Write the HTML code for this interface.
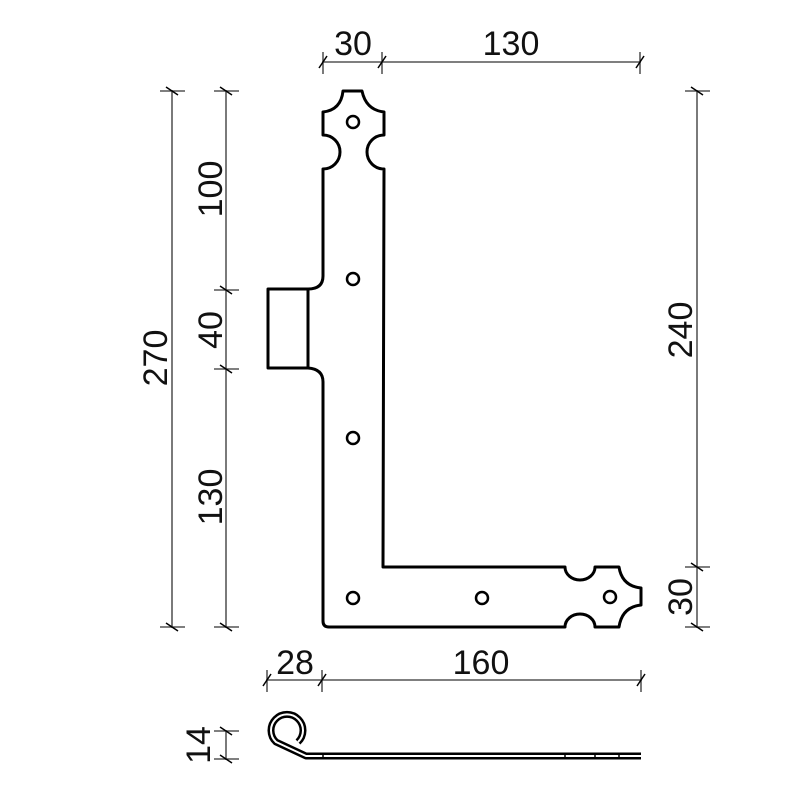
<!DOCTYPE html>
<html><head><meta charset="utf-8"><style>
html,body{margin:0;padding:0;background:#fff;}
svg{display:block;}
text{font-family:"Liberation Sans",sans-serif;font-size:34px;fill:#111;}
</style></head><body>
<svg width="800" height="800" viewBox="0 0 800 800" xmlns="http://www.w3.org/2000/svg">
<g fill="none" stroke="#000" stroke-width="3" stroke-linejoin="round">
<path d="M343,91 L362,91 Q366,110 384,112 L384,135 A17,17 0 0 0 384,169 L383,567 L565,567 A15,13 0 0 0 595,567 L619,567 Q622,586 641,588 L641,605 Q622,607 619,627 L595,627 A15,13 0 0 0 565,627 L329,627 Q323,627 323,621 L323,382 Q323,369 308,368 L268,368 L268,289 L308,289 Q323,289 323,276 L323,169 A17,17 0 0 0 323,135 L323,112 Q341,110 343,91 Z"/>
<line x1="308" y1="289" x2="308" y2="368"/>
<g stroke-width="2.5">
<circle cx="353" cy="122" r="6"/>
<circle cx="353" cy="279" r="6"/>
<circle cx="353" cy="438" r="6"/>
<circle cx="353" cy="598" r="6"/>
<circle cx="482" cy="598" r="6"/>
<circle cx="610" cy="597" r="6"/>
</g>
</g>
<g fill="none" stroke-linejoin="round">
<path d="M298,742 A16,16 0 1 0 276,742 L306,756 L641,756" stroke="#000" stroke-width="7"/>
<path d="M298,742 A16,16 0 1 0 276,742 L306,756 L641,756" stroke="#fff" stroke-width="2"/>
<g stroke="#000" stroke-width="1.5">
<line x1="323" y1="753" x2="323" y2="759"/>
<line x1="565" y1="753" x2="565" y2="759"/>
<line x1="595" y1="753" x2="595" y2="759"/>
<line x1="619" y1="753" x2="619" y2="759"/>
</g>
</g>
<g stroke="#333" stroke-width="1.3" fill="none">
<line x1="322" y1="62" x2="641" y2="62"/>
<line x1="323" y1="52" x2="323" y2="74"/><line x1="382" y1="52" x2="382" y2="74"/><line x1="640" y1="52" x2="640" y2="74"/>
<line x1="172" y1="90" x2="172" y2="628"/>
<line x1="160" y1="91" x2="185" y2="91"/><line x1="160" y1="627" x2="185" y2="627"/>
<line x1="226" y1="90" x2="226" y2="628"/>
<line x1="214" y1="91" x2="239" y2="91"/><line x1="214" y1="290" x2="239" y2="290"/><line x1="214" y1="369" x2="239" y2="369"/><line x1="214" y1="627" x2="239" y2="627"/>
<line x1="697" y1="90" x2="697" y2="628"/>
<line x1="685" y1="91" x2="710" y2="91"/><line x1="685" y1="567" x2="710" y2="567"/><line x1="685" y1="627" x2="710" y2="627"/>
<line x1="266" y1="680" x2="642" y2="680"/>
<line x1="267" y1="670" x2="267" y2="692"/><line x1="322" y1="670" x2="322" y2="692"/><line x1="641" y1="670" x2="641" y2="692"/>
<line x1="226" y1="730" x2="226" y2="760"/>
<line x1="214" y1="731" x2="239" y2="731"/><line x1="214" y1="759" x2="239" y2="759"/>
</g>
<g stroke="#000" stroke-width="1.5">
<line x1="319" y1="68" x2="327" y2="56"/><line x1="378" y1="68" x2="386" y2="56"/><line x1="636" y1="68" x2="644" y2="56"/>
<line x1="166" y1="87" x2="178" y2="95"/><line x1="166" y1="623" x2="178" y2="631"/>
<line x1="220" y1="87" x2="232" y2="95"/><line x1="220" y1="286" x2="232" y2="294"/><line x1="220" y1="365" x2="232" y2="373"/><line x1="220" y1="623" x2="232" y2="631"/>
<line x1="691" y1="87" x2="703" y2="95"/><line x1="691" y1="563" x2="703" y2="571"/><line x1="691" y1="623" x2="703" y2="631"/>
<line x1="263" y1="686" x2="271" y2="674"/><line x1="318" y1="686" x2="326" y2="674"/><line x1="637" y1="686" x2="645" y2="674"/>
<line x1="220" y1="727" x2="232" y2="735"/><line x1="220" y1="755" x2="232" y2="763"/>
</g>
<text x="353" y="55" text-anchor="middle">30</text>
<text x="511" y="55" text-anchor="middle">130</text>
<text x="295" y="674" text-anchor="middle">28</text>
<text x="481" y="674" text-anchor="middle">160</text>
<text transform="translate(167,358) rotate(-90)" text-anchor="middle">270</text>
<text transform="translate(222,189) rotate(-90)" text-anchor="middle">100</text>
<text transform="translate(222,330) rotate(-90)" text-anchor="middle">40</text>
<text transform="translate(222,497) rotate(-90)" text-anchor="middle">130</text>
<text transform="translate(692,330) rotate(-90)" text-anchor="middle">240</text>
<text transform="translate(692,597) rotate(-90)" text-anchor="middle">30</text>
<text transform="translate(210,745) rotate(-90)" text-anchor="middle">14</text>
</svg>
</body></html>
